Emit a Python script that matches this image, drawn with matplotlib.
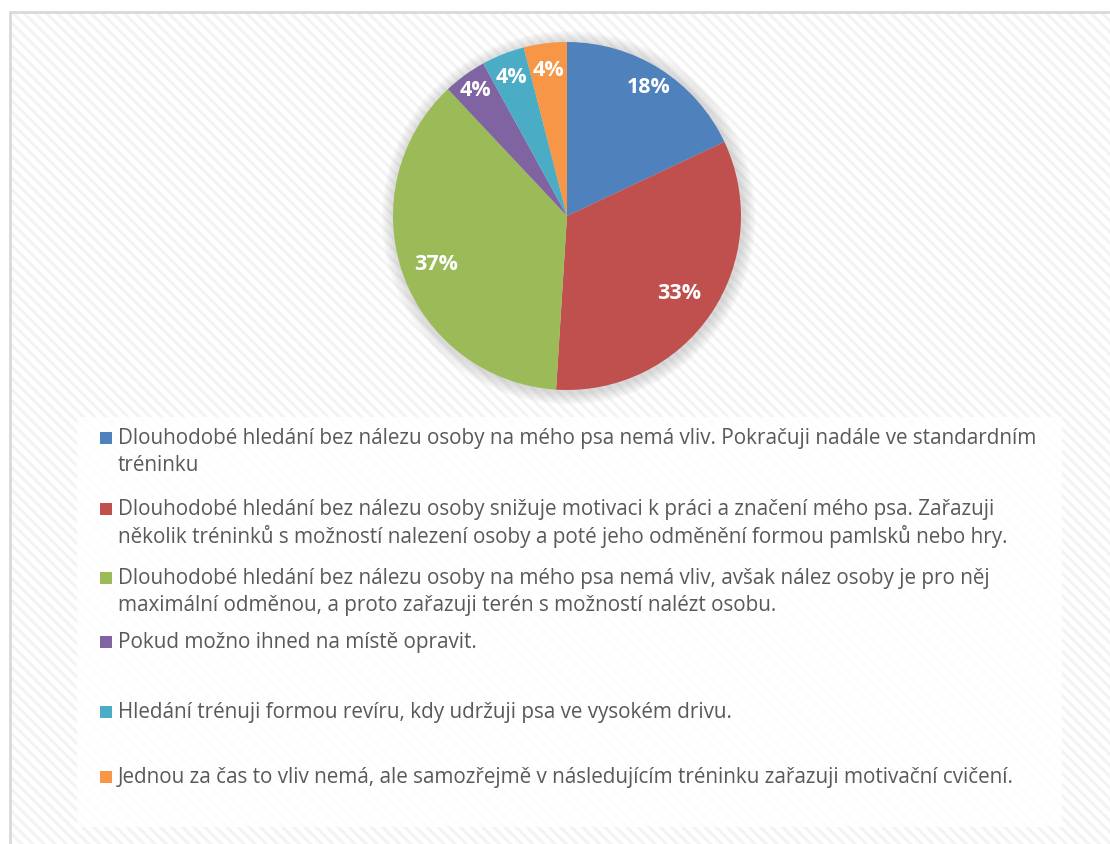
import numpy as np
import matplotlib.pyplot as plt
from matplotlib.patches import Rectangle, Circle

# data
shares = [18, 33, 37, 4, 4, 4]
colors = ['#4F81BD', '#C0504D', '#9BBB59', '#8064A2', '#4BACC6', '#F79646']
labels = [
    "Dlouhodobé hledání bez nálezu osoby na mého psa nemá vliv. Pokračuji nadále ve standardním\ntréninku",
    "Dlouhodobé hledání bez nálezu osoby snižuje motivaci k práci a značení mého psa. Zařazuji\nněkolik tréninků s možností nalezení osoby a poté jeho odměnění formou pamlsků nebo hry.",
    "Dlouhodobé hledání bez nálezu osoby na mého psa nemá vliv, avšak nález osoby je pro něj\nmaximální odměnou, a proto zařazuji terén s možností nalézt osobu.",
    "Pokud možno ihned na místě opravit.",
    "Hledání trénuji formou revíru, kdy udržuji psa ve vysokém drivu.",
    "Jednou za čas to vliv nemá, ale samozřejmě v následujícím tréninku zařazuji motivační cvičení.",
]

plt.rcParams['font.family'] = ['Open Sans', 'DejaVu Sans']
plt.rcParams['hatch.linewidth'] = 2.2

W, H = 1110, 845
fig = plt.figure(figsize=(W / 100, H / 100), dpi=100)


def fx(px):
    return px / W


def fy(py):
    return 1 - py / H


# chart area background with diagonal stripes
fig.patches.append(Rectangle((fx(10), 0), 1, fy(13), transform=fig.transFigure,
                             facecolor='white', edgecolor='#F3F3F3', lw=0, hatch='\\\\\\',
                             zorder=-3))
fig.patches.append(Rectangle((fx(10), -0.01), 1, fy(13) + 0.01, transform=fig.transFigure,
                             facecolor='none', edgecolor='#D9D9D9', lw=2, zorder=-2))
# legend box
fig.patches.append(Rectangle((fx(77), fy(828)), fx(1062 - 77), (828 - 418) / H,
                             transform=fig.transFigure, facecolor='white', alpha=0.85, lw=0,
                             zorder=-1))

# pie
cx, cy, r = 567, 217, 174
ax = fig.add_axes([fx(cx - r), fy(cy + r), 2 * r / W, 2 * r / H])
ax.set_zorder(1)
for k in range(6):
    ax.add_patch(Circle((0.01, -0.01), 1.0 + 0.012 * (k + 1), color='#808080',
                        alpha=0.05, lw=0, zorder=0, clip_on=False))
wedges, texts, autotexts = ax.pie(shares, colors=colors, startangle=90, counterclock=False,
                                  radius=1, autopct='%1.0f%%', pctdistance=0.8,
                                  textprops=dict(color='white', fontsize=15.5, fontweight='bold'))
dists = [0.88, 0.78, 0.8, 0.9, 0.86, 0.85]
for w, t, d in zip(wedges, autotexts, dists):
    ang = np.deg2rad((w.theta1 + w.theta2) / 2)
    t.set_position((d * np.cos(ang), d * np.sin(ang)))
    t.set_zorder(5)
ax.set_xlim(-1, 1)
ax.set_ylim(-1, 1)
ax.set_aspect('equal')
ax.axis('off')

# legend
rows = [439, 510, 579, 643, 713, 778]
for lab, col, y in zip(labels, colors, rows):
    fig.patches.append(Rectangle((fx(100), fy(y + 6)), fx(12), 12 / H,
                                 transform=fig.transFigure, facecolor=col, lw=0))
    for i, line in enumerate(lab.split('\n')):
        fig.text(fx(118), fy(y + 27 * i), line, fontsize=14.9, color='#595959',
                 va='center', ha='left')

fig.savefig('out.png', dpi=100)
